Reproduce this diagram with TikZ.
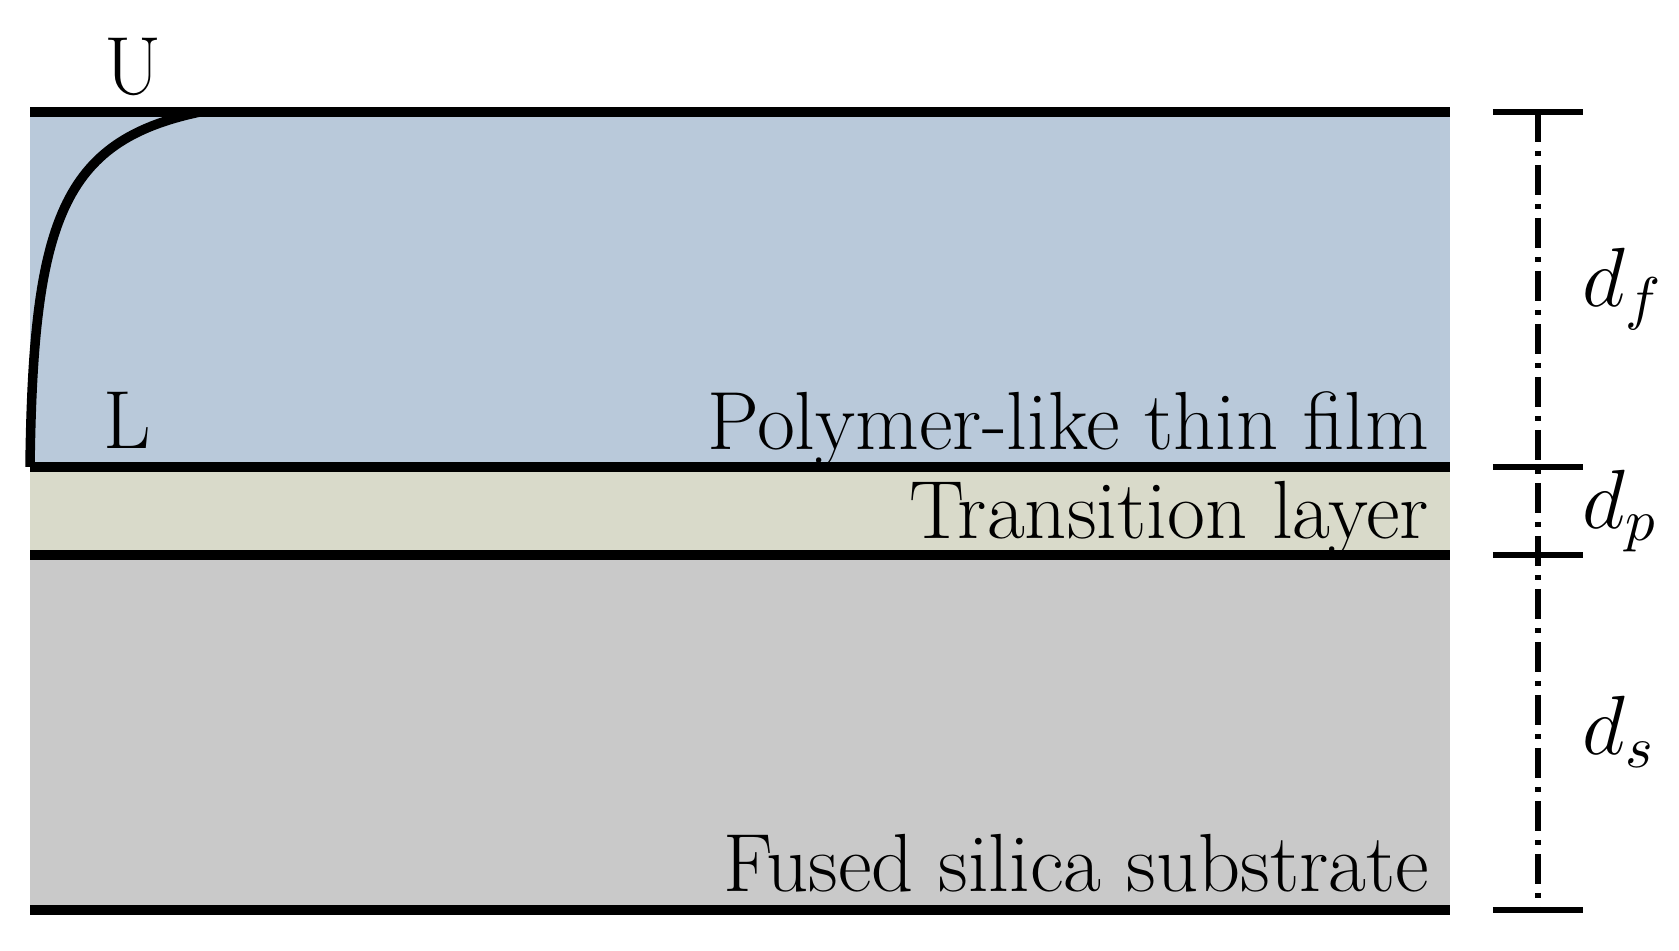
\RequirePackage{fix-cm}
\documentclass[tikz,border=0pt]{standalone}
\usetikzlibrary{positioning}
\definecolor{filmblue}{RGB}{185,201,218}
\definecolor{transgray}{RGB}{217,218,202}
\definecolor{subgray}{RGB}{201,201,201}

\begin{document}
\begin{tikzpicture}[x=20pt,y=20pt,
  boundary/.style={line width=1.9pt},
  dimtick/.style={line width=1.3pt},
  dimaxis/.style={line width=1.2pt,dash pattern=on 6pt off 1.8pt on 1pt off 1.8pt},
  layername/.style={anchor=base east,inner sep=0pt,font=\fontsize{16.5}{19}\selectfont},
  dimlabel/.style={anchor=west,inner sep=0pt,font=\fontsize{16.8}{19}\selectfont}]
\useasboundingbox (0,0) rectangle (16.79,9.51);
% \draw[help lines] (0,0) grid (16,9);
\fill[subgray] (0.30,0.41) rectangle (14.50,3.96);
\fill[transgray] (0.30,3.96) rectangle (14.50,4.84);
\fill[filmblue] (0.30,4.84) rectangle (14.50,8.39);
%
\draw[boundary] (0.30,8.39) -- (14.50,8.39);
\draw[boundary] (0.30,4.84) -- (14.50,4.84);
\draw[boundary] (0.30,3.96) -- (14.50,3.96);
\draw[boundary] (0.30,0.41) -- (14.50,0.41);
\draw[boundary] (0.30,4.84) .. controls (0.33,7.3) and (0.62,8.1) .. (2.00,8.39);
%
\node (upper) [anchor=base,inner sep=0pt,font=\fontsize{16.5}{19}\selectfont] at (1.33,8.56) {U};
\node (lower) [anchor=base,inner sep=0pt,font=\fontsize{16.5}{19}\selectfont] at (1.27,5.02) {L};
\node (film) [layername] at (14.30,5.01) {Polymer-like thin film};
\node (trans) [layername] at (14.30,4.12) {Transition layer};
\node (subs) [layername] at (14.30,0.59) {Fused silica substrate};
%
\coordinate (t1) at (15.38,8.39);
\coordinate (t2) at (15.38,4.84);
\coordinate (t3) at (15.38,3.96);
\coordinate (t4) at (15.38,0.41);
\foreach \t in {t1,t2,t3,t4}
  \draw[dimtick] ([xshift=-9pt]\t) -- ([xshift=9pt]\t);
\draw[dimaxis] (t1) -- (t4);
\node (df) [dimlabel] at (15.82,6.62) {$d_f$};
\node (dp) [dimlabel] at (15.82,4.40) {$d_p$};
\node (ds) [dimlabel] at (15.82,2.19) {$d_s$};
\end{tikzpicture}
\end{document}
